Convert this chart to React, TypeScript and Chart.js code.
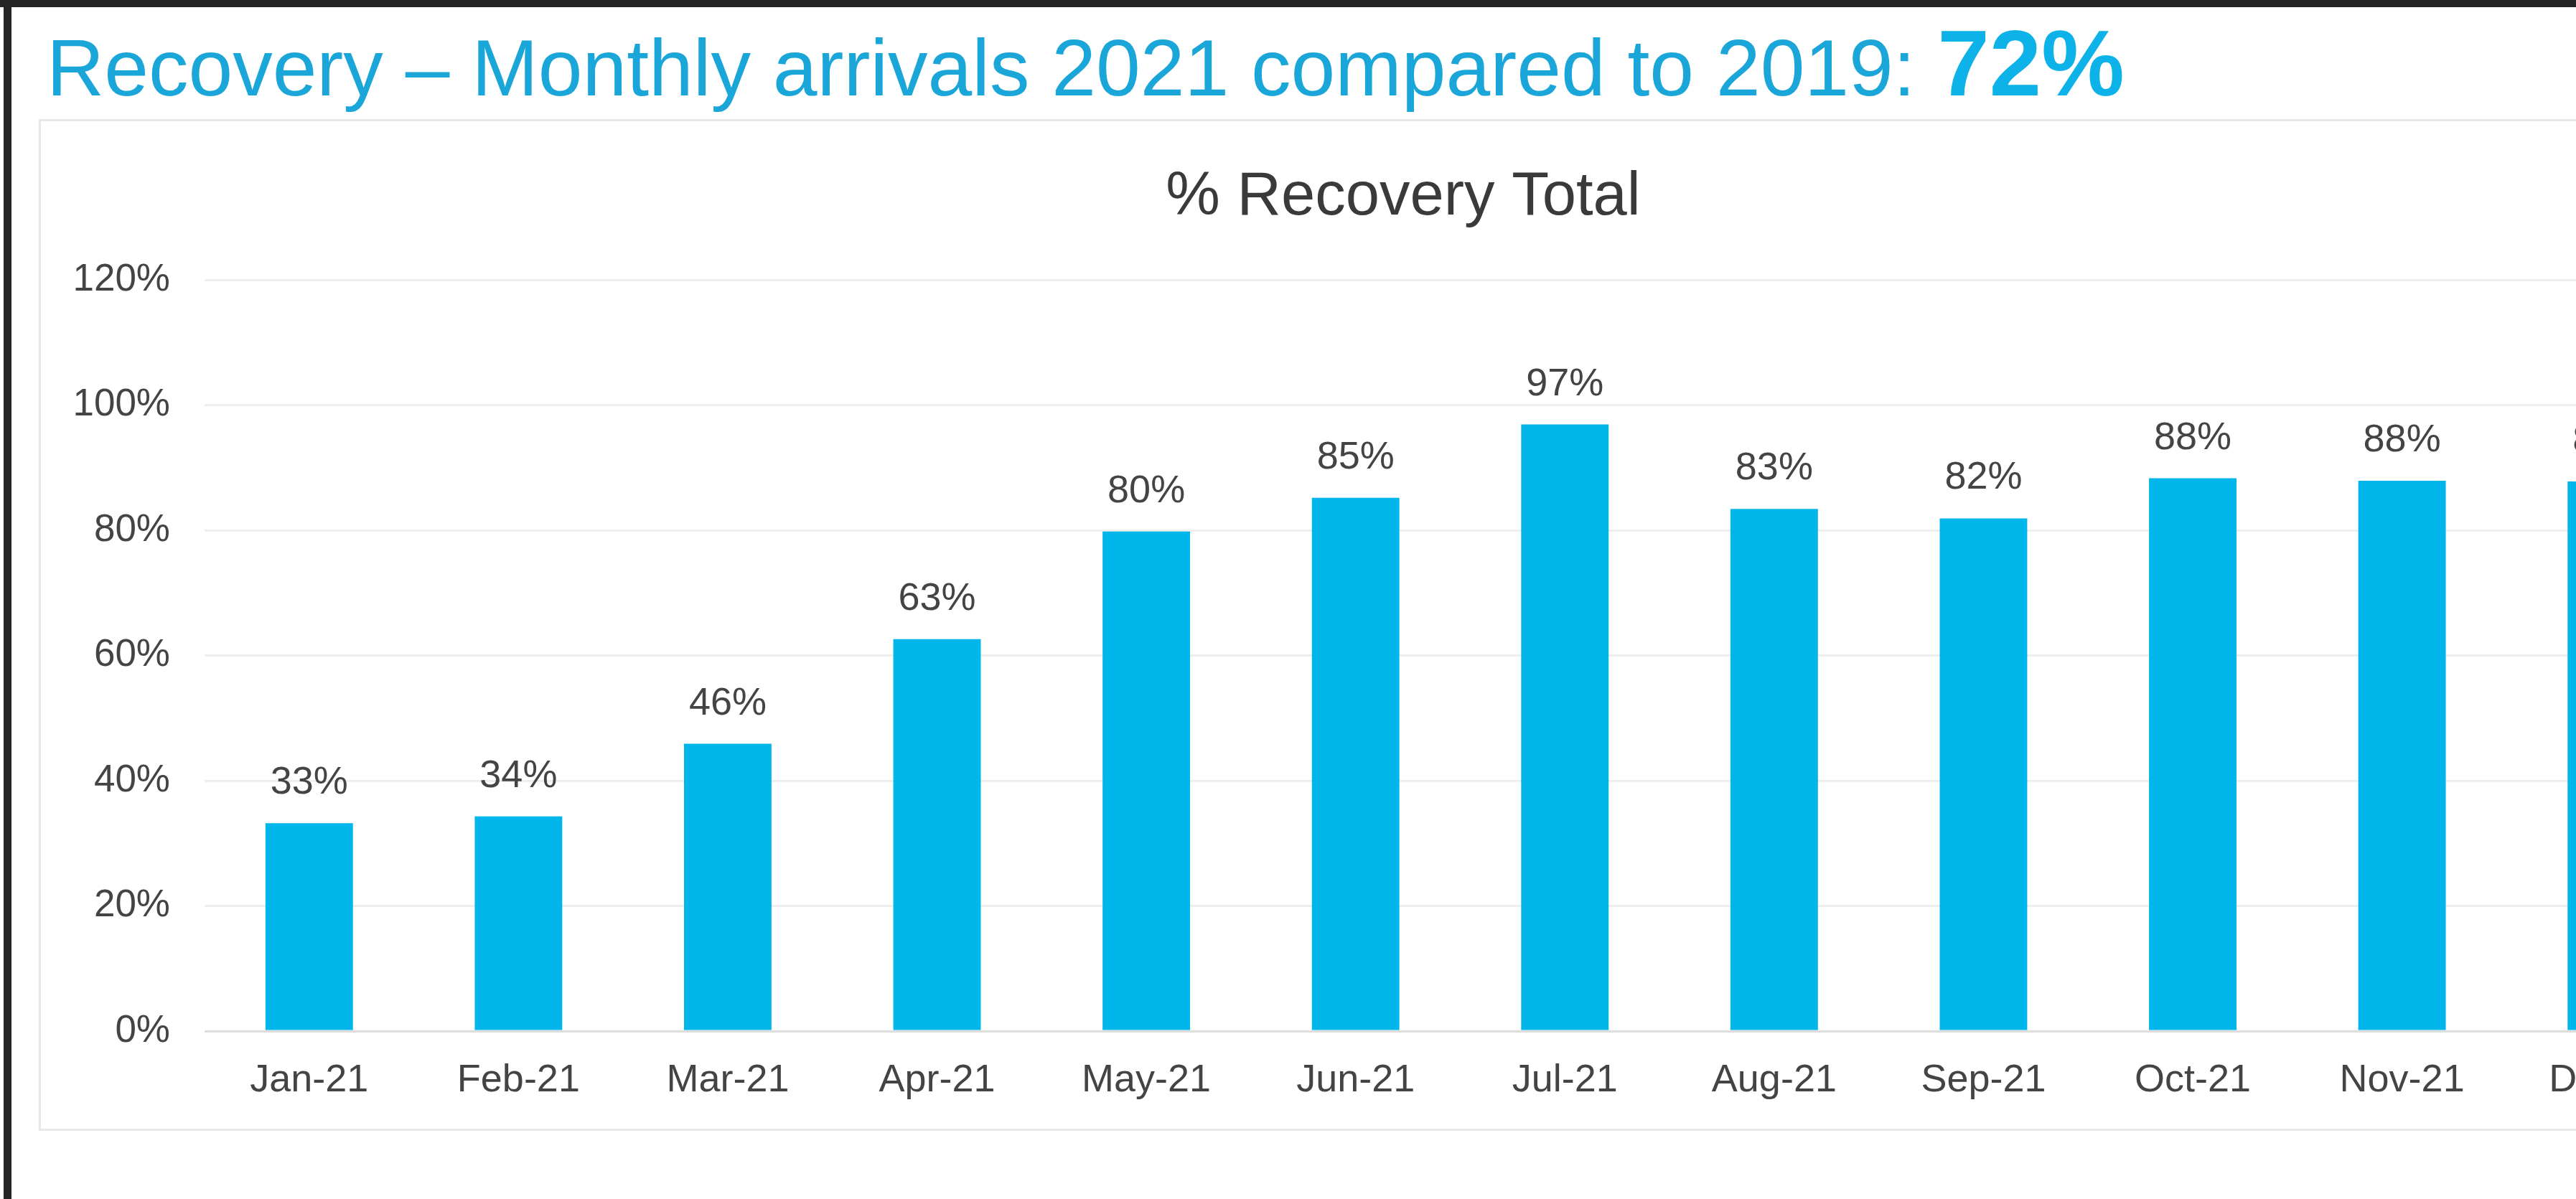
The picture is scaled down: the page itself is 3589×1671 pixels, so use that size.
import React, { useEffect, useRef } from "react";
import { Chart, registerables } from "chart.js";

Chart.register(...registerables);

const months = ["Jan-21", "Feb-21", "Mar-21", "Apr-21", "May-21", "Jun-21", "Jul-21", "Aug-21", "Sep-21", "Oct-21", "Nov-21", "Dec-21"];
const recovery = [33.2, 34.3, 45.9, 62.6, 79.8, 85.2, 96.9, 83.4, 81.9, 88.3, 87.9, 87.8];
const yTicks = [0, 20, 40, 60, 80, 100, 120];

const FONT = "'Liberation Sans', Arial, sans-serif";
const BAR = "#00b6ea";
const TEXT = "#444444";

const W = 3589;
const H = 1671;
const CW = 3900;

const valueLabels = {
  id: "valueLabels",
  afterDatasetsDraw(chart: any) {
    const ctx = chart.ctx;
    const meta = chart.getDatasetMeta(0);
    ctx.save();
    ctx.font = `54px ${FONT}`;
    ctx.fillStyle = TEXT;
    ctx.textAlign = "center";
    ctx.textBaseline = "alphabetic";
    meta.data.forEach((bar: any, i: number) => {
      ctx.fillText(Math.round(recovery[i]) + "%", bar.x, bar.y - 41);
    });
    ctx.restore();
  },
};

export default function App() {
  const ref = useRef<HTMLCanvasElement | null>(null);

  useEffect(() => {
    if (!ref.current) return;
    const chart = new Chart(ref.current, {
      type: "bar",
      data: {
        labels: months,
        datasets: [
          {
            data: recovery,
            backgroundColor: BAR,
            categoryPercentage: 1,
            barPercentage: 0.418,
            yAxisID: "y",
          },
        ],
      },
      options: {
        responsive: false,
        animation: false,
        devicePixelRatio: 1,
        layout: { padding: { left: 60, right: CW - 3850, top: 0, bottom: 0 } },
        plugins: {
          legend: { display: false },
          tooltip: { enabled: false },
          title: {
            display: true,
            text: "% Recovery Total",
            color: "#3a3a3a",
            font: { family: FONT, size: 85, weight: "normal" },
            padding: { top: 225, bottom: 63 },
          },
        },
        scales: {
          x: {
            grid: { display: false, drawTicks: false },
            border: { display: false },
            ticks: {
              color: TEXT,
              font: { family: FONT, size: 54 },
              padding: 37,
              maxRotation: 0,
              autoSkip: false,
            },
            afterFit: (s: any) => {
              s.height = 234;
            },
          },
          y: {
            min: yTicks[0],
            max: yTicks[yTicks.length - 1],
            ticks: {
              stepSize: 20,
              callback: (v: any) => v + "%",
              color: TEXT,
              font: { family: FONT, size: 53 },
              padding: 48,
            },
            grid: {
              color: (c: any) => (c.tick && c.tick.value === 0 ? "#dedede" : "#eeeeee"),
              lineWidth: 3,
              drawTicks: false,
            },
            border: { display: false },
            afterFit: (s: any) => {
              s.width = 225;
            },
          },
          y2: {
            position: "right",
            display: true,
            grid: { display: false, drawTicks: false },
            border: { display: false },
            ticks: { display: false },
            afterFit: (s: any) => {
              s.width = 66;
            },
          },
        },
      },
      plugins: [valueLabels],
    });
    return () => chart.destroy();
  }, []);

  return (
    <div
      style={{
        position: "fixed",
        left: 0,
        top: 0,
        width: W,
        height: H,
        overflow: "hidden",
        background: "#ffffff",
        fontFamily: FONT,
      }}
    >
      <div style={{ position: "absolute", left: 0, top: 0, width: W, height: 10, background: "#252525" }} />
      <div style={{ position: "absolute", left: 5, top: 0, width: 11, height: H, background: "#252525" }} />
      <div
        style={{
          position: "absolute",
          left: 54,
          top: 166,
          width: 3700,
          height: 1410,
          border: "3px solid #e8e8e8",
          boxSizing: "border-box",
        }}
      />
      <canvas
        ref={ref}
        width={CW}
        height={H}
        style={{ position: "absolute", left: 0, top: 0, width: CW, height: H }}
      />
      <div
        style={{
          position: "absolute",
          left: 65,
          top: 23,
          whiteSpace: "nowrap",
          fontSize: 111,
          lineHeight: 1,
          color: "#1aa6d8",
        }}
      >
        Recovery – Monthly arrivals 2021 compared to 2019:{" "}
        <span style={{ fontSize: 130, fontWeight: "bold", color: "#0db2e8", lineHeight: 1 }}>72%</span>
      </div>
    </div>
  );
}
